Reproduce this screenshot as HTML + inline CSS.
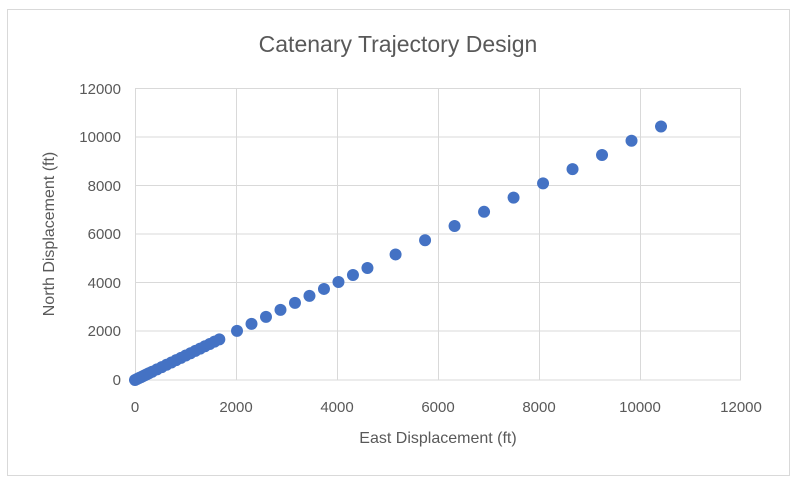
<!DOCTYPE html>
<html><head><style>
html,body{margin:0;padding:0;background:#fff;}
svg{display:block;font-family:"Liberation Sans",sans-serif;}
</style></head><body>
<svg width="800" height="485" viewBox="0 0 800 485">
<rect x="7.5" y="9.5" width="782" height="466" fill="#fff" stroke="#d9d9d9"/>
<text x="398" y="52" text-anchor="middle" font-size="23" fill="#595959">Catenary Trajectory Design</text>
<g stroke="#d9d9d9" stroke-width="1">
<line x1="135" y1="88.5" x2="741" y2="88.5"/>
<line x1="135" y1="137" x2="741" y2="137"/>
<line x1="135" y1="185.5" x2="741" y2="185.5"/>
<line x1="135" y1="234" x2="741" y2="234"/>
<line x1="135" y1="282.5" x2="741" y2="282.5"/>
<line x1="135" y1="331" x2="741" y2="331"/>
<line x1="135" y1="380" x2="741" y2="380"/>
<line x1="135.5" y1="88" x2="135.5" y2="380"/>
<line x1="236.5" y1="88" x2="236.5" y2="380"/>
<line x1="337.5" y1="88" x2="337.5" y2="380"/>
<line x1="438.5" y1="88" x2="438.5" y2="380"/>
<line x1="539.5" y1="88" x2="539.5" y2="380"/>
<line x1="640.5" y1="88" x2="640.5" y2="380"/>
<line x1="740.5" y1="88" x2="740.5" y2="380"/>
</g>
<g font-size="15" fill="#595959" text-anchor="end">
<text x="121" y="94">12000</text>
<text x="121" y="142">10000</text>
<text x="121" y="191">8000</text>
<text x="121" y="239">6000</text>
<text x="121" y="288">4000</text>
<text x="121" y="336">2000</text>
<text x="121" y="385">0</text>
</g>
<g font-size="15" fill="#595959" text-anchor="middle">
<text x="135" y="412">0</text>
<text x="236" y="412">2000</text>
<text x="337" y="412">4000</text>
<text x="438" y="412">6000</text>
<text x="539" y="412">8000</text>
<text x="640" y="412">10000</text>
<text x="741" y="412">12000</text>
</g>
<text x="438" y="443" text-anchor="middle" font-size="16" fill="#595959">East Displacement (ft)</text>
<text transform="translate(54,234) rotate(-90)" text-anchor="middle" font-size="16" fill="#595959">North Displacement (ft)</text>
<g id="pts" fill="#4472c4"></g>
<script>
var g=document.getElementById('pts'),v=[];
for(var d=0;d<=300;d+=40)v.push(d);
for(var d=340;d<=1760;d+=95)v.push(d);
for(var d=2020;d<=4650;d+=287)v.push(d);
for(var d=5160;d<=10500;d+=584)v.push(d);
v.forEach(function(d){var c=document.createElementNS('http://www.w3.org/2000/svg','circle');
c.setAttribute('cx',135+d*606/12000);c.setAttribute('cy',380-d*292/12000);c.setAttribute('r',6);g.appendChild(c);});
</script>
</svg>
</body></html>
